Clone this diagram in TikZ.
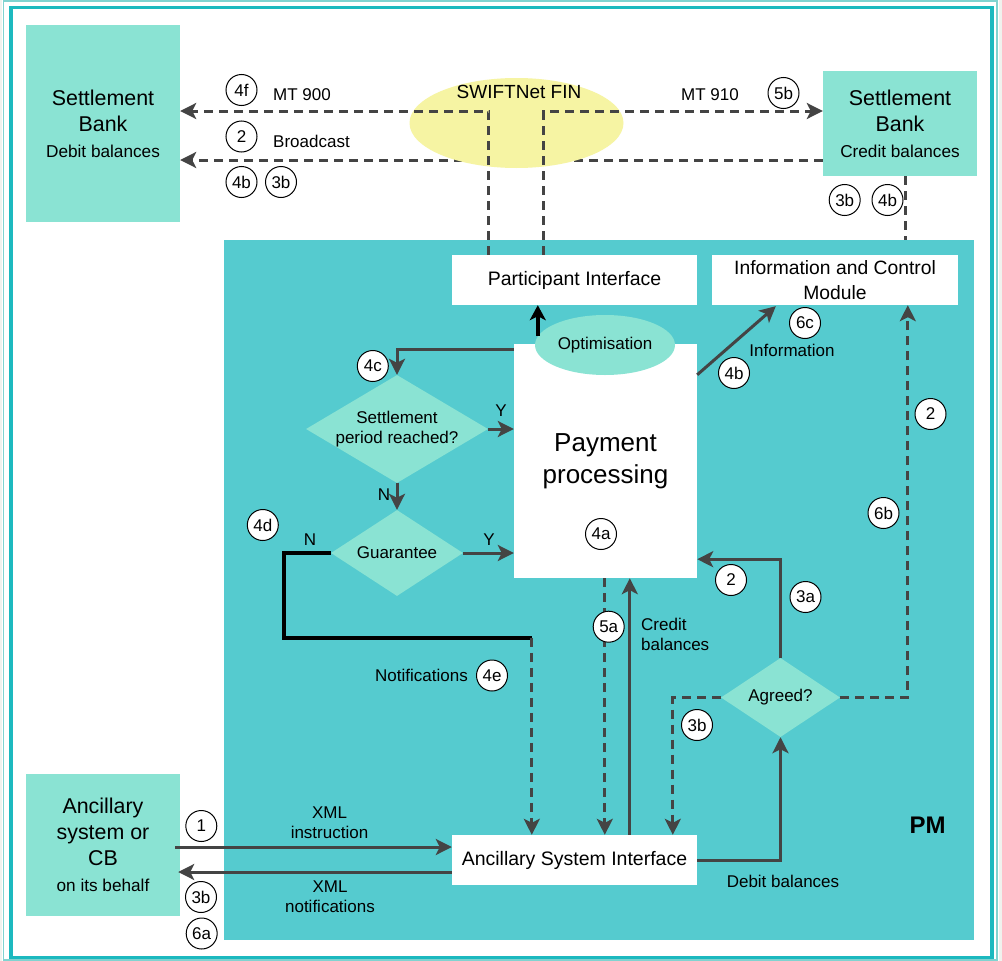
\documentclass[tikz,border=0pt]{standalone}
\usepackage{fontspec}
\setmainfont{Liberation Sans}
\usetikzlibrary{arrows.meta,shapes.geometric,calc}
\definecolor{aqua}{HTML}{8AE3D3}
\definecolor{pmteal}{HTML}{55CBCF}
\definecolor{frameteal}{HTML}{1CB9BF}
\definecolor{framelight}{HTML}{80D3D0}
\definecolor{pagegrey}{HTML}{F0F2EE}
\definecolor{swiftyellow}{HTML}{F6F4A3}
\definecolor{lc}{HTML}{444444}
\begin{document}
\begin{tikzpicture}[x=1pt,y=-1pt,
  ln/.style={draw=lc, line width=3pt},
  dsh/.style={ln, dash pattern=on 9pt off 6pt},
  tip/.style={-{Stealth[length=16pt,width=16pt,inset=4pt]}},
  blkln/.style={draw=black, line width=3.5pt},
  circ/.style={circle, draw=black, line width=1pt, fill=white, minimum size=31pt, inner sep=0pt, font=\fontsize{17}{20}\selectfont},
  lbl/.style={font=\fontsize{17}{20}\selectfont, inner sep=0pt, align=center},
  whitebox/.style={fill=white, inner sep=0pt, align=center, font=\fontsize{19.5}{25}\selectfont},
  aquabox/.style={fill=aqua, inner sep=0pt, align=center, font=\fontsize{21.4}{26}\selectfont},
  dia/.style={diamond, fill=aqua, inner sep=0pt},
]
\useasboundingbox (0,0) rectangle (1002,961);
% page and frames
\fill[pagegrey] (0,0) rectangle (1002,961);
\fill[white] (2,0) rectangle (999,961);
\draw[framelight, line width=1.5pt] (3.5,1) rectangle (997,960);
\draw[frameteal, line width=3.5pt] (11,7.5) rectangle (992,957.5);

% PM region
\node[fill=pmteal, minimum width=750pt, minimum height=700pt, inner sep=0pt] (pm) at (599,590) {};
\node[font=\fontsize{24}{28}\selectfont\bfseries, inner sep=0pt] (pmlbl) at (927.5,825) {PM};

% settlement banks
\node[aquabox, minimum width=154pt, minimum height=197pt] (sbl) at (103,123.5)
  {Settlement\\Bank\\{\fontsize{17.2}{20}\selectfont Debit balances}};
\node[aquabox, minimum width=154pt, minimum height=105pt] (sbr) at (900,123.5)
  {Settlement\\Bank\\{\fontsize{17.2}{20}\selectfont Credit balances}};

% broadcast line (behind SWIFTNet)
\draw[dsh,tip] ($(sbr.west)+(0,36.5)$) -- ($(sbl.east)+(0,36.5)$);

% SWIFTNet FIN
\node[ellipse, fill=swiftyellow, minimum width=214pt, minimum height=90pt, inner sep=0pt] (swift) at (516.5,123) {};
\node[lbl, font=\fontsize{19}{22}\selectfont] (swiftlbl) at (519,92) {SWIFTNet FIN};

% boxes inside PM
\node[whitebox, minimum width=245pt, minimum height=50pt] (pi) at (574.5,280) {Participant Interface};
\node[whitebox, minimum width=246pt, minimum height=50pt, font=\fontsize{19.3}{25}\selectfont] (icm) at (835,280) {Information and Control\\Module};
\node[fill=white, minimum width=183pt, minimum height=234pt, inner sep=0pt, align=center, font=\fontsize{26}{32}\selectfont] (pp) at (605.5,461) {Payment\\processing};
\node[ellipse, fill=aqua, minimum width=140pt, minimum height=60pt, inner sep=0pt, font=\fontsize{17}{20}\selectfont] (opt) at (605,345) {Optimisation};
\node[whitebox, minimum width=245pt, minimum height=50pt] (asi) at (574.5,860) {Ancillary System Interface};

% ancillary system
\node[aquabox, minimum width=154pt, minimum height=142pt] (anc) at (103,845)
  {Ancillary\\system or\\CB\\{\fontsize{17.2}{20}\selectfont on its behalf}};

% decisions
\node[dia, minimum width=182pt, minimum height=108pt,
  label={[lbl]center:Settlement\\period reached?}] (d1) at (397,429) {};
\node[dia, minimum width=132pt, minimum height=86pt,
  label={[lbl]center:Guarantee}] (d2) at (397,553) {};
\node[dia, minimum width=119pt, minimum height=79pt,
  label={[lbl]center:Agreed?}] (d3) at (780.5,697.5) {};

% helper coordinates
\coordinate (mt9a) at ($(pi.north west)+(37,0)$);
\coordinate (mt9b) at ($(pi.north west)+(92,0)$);
\coordinate (rb) at ($(sbr.south)+(5.5,0)$);
\coordinate (optp) at ($(pi.south west)+(86,31)$);
\coordinate (nc) at ($(asi.north west)+(80,-197)$);
\coordinate (c5a) at ($(pp.south west)+(91,0)$);
\coordinate (ccr) at ($(asi.north west)+(178,0)$);
\coordinate (c3b) at ($(asi.north west)+(221,0)$);
\coordinate (ci2) at ($(icm.south west)+(196,0)$);

% SWIFT connectors
\draw[dsh,tip] (mt9a) |- ($(sbl.east)+(0,-12.5)$);
\draw[dsh,tip] (mt9b) |- ($(sbr.west)+(0,-12.5)$);
\draw[dsh] (rb) -- (rb |- pm.north);

% PM internal connectors
\draw[blkln, -{Stealth[length=15pt,width=16pt,inset=4pt]}] (optp) -- (optp |- pi.south);
\draw[ln,tip] ($(pp.north west)+(0,6)$) -| (d1.north);
\draw[ln,tip] (d1.east) -- (d1.east -| pp.west);
\draw[ln,tip] (d1.south) -- (d2.north);
\draw[ln,tip] (d2.east) -- (d2.east -| pp.west);
\draw[blkln] (d2.west) -- ++(-47,0) |- (nc);
\draw[dsh,tip] (nc) -- (nc |- asi.north);
\draw[dsh,tip] (c5a) -- (c5a |- asi.north);
\draw[ln,tip] (ccr) -- (ccr |- pp.south);
\draw[ln,tip] (asi.east) -| (d3.south);
\draw[ln,tip] (d3.north) |- ($(pp.south east)+(0,-19)$);
\draw[dsh,tip] (d3.west) -| (c3b);
\draw[dsh,tip] (d3.east) -| (ci2);
\draw[ln,tip] ($(pp.north east)+(0,31)$) -- ($(icm.south west)+(64,1)$);

% XML connectors
\draw[ln,tip] ($(anc.east)+(-5,2)$) -- ($(asi.west)+(0,-13)$);
\draw[ln,tip] ($(asi.west)+(0,12)$) -- ($(anc.east)+(-2,27)$);

% text labels
\node[lbl] (tmt900) at (302,95) {MT 900};
\node[lbl] (tbroad) at (311.5,141) {Broadcast};
\node[lbl] (tmt910) at (710,95) {MT 910};
\node[lbl] (ty1) at (501,411) {Y};
\node[lbl] (tn1) at (384,495) {N};
\node[lbl] (ty2) at (489,540) {Y};
\node[lbl] (tn2) at (310,540) {N};
\node[lbl] (tinfo) at (792,350) {Information};
\node[lbl] (tnotif) at (421.5,675) {Notifications};
\node[lbl, align=left, anchor=west] (tcredit) at (641,634) {Credit\\balances};
\node[lbl] (tdebit) at (783,881) {Debit balances};
\node[lbl] (txmli) at (329.5,823) {XML\\instruction};
\node[lbl] (txmln) at (330,896.5) {XML\\notifications};

% step numbers
\node[circ] (n4f) at (241.5,90) {4f};
\node[circ] (n2a) at (241.5,136.5) {2};
\node[circ] (n4ba) at (241.5,182) {4b};
\node[circ] (n3ba) at (281,182) {3b};
\node[circ] (n5b) at (783.5,93) {5b};
\node[circ] (n3bb) at (844.7,200) {3b};
\node[circ] (n4bb) at (887.5,200) {4b};
\node[circ] (n4c) at (372.8,366) {4c};
\node[circ] (n4d) at (262.8,525) {4d};
\node[circ] (n4a) at (601,534) {4a};
\node[circ] (n4bc) at (734,373) {4b};
\node[circ] (n6c) at (805,323) {6c};
\node[circ] (n2b) at (930.5,414) {2};
\node[circ] (n6b) at (883.5,513) {6b};
\node[circ] (n2c) at (731,580) {2};
\node[circ] (n3a) at (805.5,597) {3a};
\node[circ] (n5a) at (608.7,626.7) {5a};
\node[circ] (n3bc) at (697,725) {3b};
\node[circ] (n4e) at (492,675.5) {4e};
\node[circ] (n1) at (201.3,826) {1};
\node[circ] (n3bd) at (201,897) {3b};
\node[circ] (n6a) at (201.7,933.5) {6a};
\end{tikzpicture}
\end{document}
